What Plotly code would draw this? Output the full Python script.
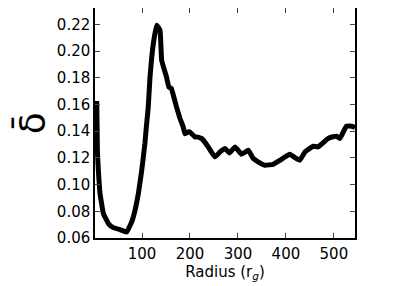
import plotly.graph_objects as go

radius = [5.6, 6.5, 7, 9, 12.5, 19.4, 30, 40, 54, 68, 78.5, 85.4, 92.4, 99.4, 106, 109.7, 113,
          116.7, 123.6, 130.6, 137.5, 141, 151, 156, 161, 172, 179, 186, 189.6, 196.5, 200,
          210, 214, 224, 227.8, 238, 252, 262.5, 273, 282, 294, 307.6, 321.5, 332, 342, 356,
          373.6, 387.5, 408, 418.7, 429, 439.6, 457, 467, 485, 491.7, 505.6, 512.5, 526, 537, 544]
delta = [0.1626, 0.14, 0.125, 0.1107, 0.0933, 0.0783, 0.0708, 0.0678, 0.0663, 0.0645, 0.072,
         0.0807, 0.0933, 0.1107, 0.1307, 0.1457, 0.158, 0.1806, 0.2056, 0.2193, 0.2156, 0.193,
         0.1806, 0.173, 0.172, 0.158, 0.1497, 0.1430, 0.138, 0.1394, 0.1394, 0.1357, 0.1357,
         0.1345, 0.1332, 0.1282, 0.1207, 0.1244, 0.127, 0.1237, 0.1282, 0.1227, 0.1257, 0.1195,
         0.117, 0.1145, 0.1152, 0.1182, 0.1227, 0.1202, 0.1182, 0.1244, 0.1287, 0.1282, 0.1337,
         0.1352, 0.1362, 0.1345, 0.1437, 0.1437, 0.1427]
x_ticks = [100, 200, 300, 400, 500]
y_ticks = [0.06, 0.08, 0.10, 0.12, 0.14, 0.16, 0.18, 0.20, 0.22]
y_label = "δ\u0304"

fig = go.Figure(go.Scatter(x=radius, y=delta, mode="lines",
                           line=dict(color="black", width=5, shape="spline", smoothing=0.3)))

axis_common = dict(showline=True, linecolor="black", linewidth=1.5, mirror="allticks",
                   ticks="inside", ticklen=5, tickcolor="#444", showgrid=False, zeroline=False,
                   automargin=False,
                   tickfont=dict(family="DejaVu Sans", size=15, color="black"))

fig.update_xaxes(range=[2, 544], tickvals=x_ticks, ticklabelstandoff=1,
                 title=dict(text="Radius (r<sub><i>g</i></sub>)", standoff=4,
                            font=dict(family="DejaVu Sans", size=15, color="black")),
                 **axis_common)
fig.update_yaxes(range=[0.06, 0.2322], tickvals=y_ticks, tickformat=".2f",
                 **axis_common)

fig.add_annotation(text=y_label, xref="paper", yref="paper", x=-0.33, y=0.50,
                   xanchor="left", yanchor="middle", textangle=-90, showarrow=False,
                   font=dict(family="DejaVu Sans", size=36, color="black"))

# page body has an 8px margin, so the figure is shifted by 8px; compensate
fig.update_layout(width=408, height=278, margin=dict(l=87, r=61, t=0, b=48),
                  plot_bgcolor="white", paper_bgcolor="white", showlegend=False)

fig.write_html("out.html")
